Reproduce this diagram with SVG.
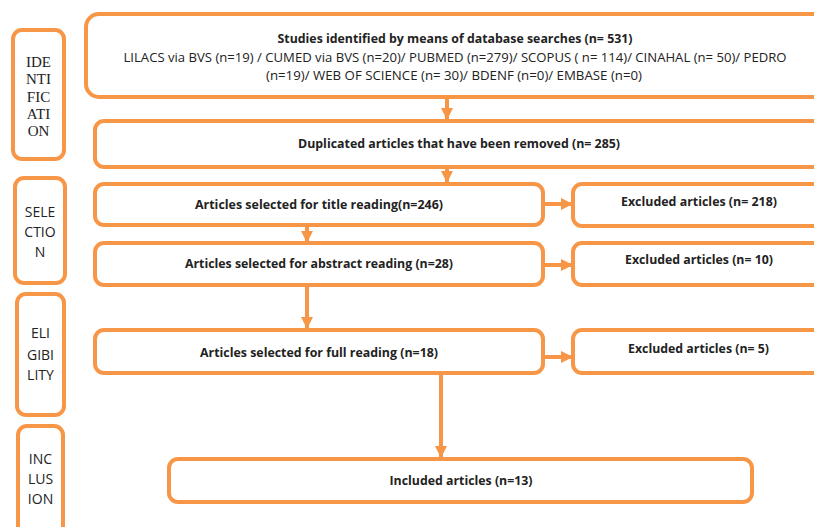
<svg xmlns="http://www.w3.org/2000/svg" width="814" height="527" viewBox="0 0 814 527">
<style>
.box{fill:#fff;stroke:#F79646;stroke-width:4}
.c{stroke:#F79646;stroke-width:4;fill:none}
.t{font-family:"Open Sans","Liberation Sans",sans-serif;font-size:12.5px;fill:#222;text-anchor:middle}
.b{font-weight:bold}
.ser{font-family:"Liberation Serif",serif;font-size:15px;fill:#222;text-anchor:middle}
.lab{font-family:"Open Sans","Liberation Sans",sans-serif;font-size:14px;fill:#222;text-anchor:middle}
</style>
<defs>
<marker id="ah" viewBox="0 0 10 10" refX="10" refY="5" markerWidth="3" markerHeight="3" orient="auto" markerUnits="strokeWidth">
<path d="M0,0 L10,5 L0,10 Z" fill="#F79646"/>
</marker>
</defs>
<g id="stage-identification">
<rect class="box" x="13" y="30" width="51" height="129" rx="9"/>
<text class="ser" x="38.5" y="67">IDE</text>
<text class="ser" x="38.5" y="84">NTI</text>
<text class="ser" x="38.5" y="102">FIC</text>
<text class="ser" x="38.5" y="119">ATI</text>
<text class="ser" x="38.5" y="136">ON</text>
</g>
<g id="stage-selection">
<rect class="box" x="15" y="178" width="50" height="105" rx="9"/>
<text class="lab" x="40" y="217">SELE</text>
<text class="lab" x="40" y="237">CTIO</text>
<text class="lab" x="40" y="257">N</text>
</g>
<g id="stage-eligibility">
<rect class="box" x="17" y="294" width="47" height="121" rx="9"/>
<text class="lab" x="40.5" y="338">ELI</text>
<text class="lab" x="40.5" y="360">GIBI</text>
<text class="lab" x="40.5" y="380">LITY</text>
</g>
<g id="stage-inclusion">
<rect class="box" x="18" y="426" width="45" height="110" rx="9"/>
<text class="lab" x="40.5" y="464">INC</text>
<text class="lab" x="40.5" y="484">LUS</text>
<text class="lab" x="40.5" y="504">ION</text>
</g>
<g id="connectors">
<line class="c" x1="447" y1="97" x2="447" y2="120" marker-end="url(#ah)"/>
<line class="c" x1="447" y1="167" x2="447" y2="183" marker-end="url(#ah)"/>
<line class="c" x1="307" y1="225" x2="307" y2="243" marker-end="url(#ah)"/>
<line class="c" x1="307" y1="285" x2="307" y2="329" marker-end="url(#ah)"/>
<line class="c" x1="441" y1="373" x2="441" y2="458" marker-end="url(#ah)"/>
<line class="c" x1="543" y1="204" x2="573" y2="204" marker-end="url(#ah)"/>
<line class="c" x1="543" y1="265" x2="573" y2="265" marker-end="url(#ah)"/>
<line class="c" x1="543" y1="357" x2="573" y2="357" marker-end="url(#ah)"/>
</g>
<g id="n-studies">
<rect class="box" x="86" y="14" width="740" height="83" rx="13"/>
<text class="t b" x="455" y="43" textLength="355" lengthAdjust="spacingAndGlyphs">Studies identified by means of database searches (n= 531)</text>
<text class="t" x="455" y="62" textLength="663" lengthAdjust="spacingAndGlyphs">LILACS via BVS (n=19) / CUMED via BVS (n=20)/ PUBMED (n=279)/ SCOPUS ( n= 114)/ CINAHAL (n= 50)/ PEDRO</text>
<text class="t" x="454" y="80" textLength="376" lengthAdjust="spacingAndGlyphs">(n=19)/ WEB OF SCIENCE (n= 30)/ BDENF (n=0)/ EMBASE (n=0)</text>
</g>
<g id="n-duplicated">
<rect class="box" x="95" y="121" width="730" height="46" rx="9"/>
<text class="t b" x="459" y="148" textLength="322" lengthAdjust="spacingAndGlyphs">Duplicated articles that have been removed (n= 285)</text>
</g>
<g id="n-title">
<rect class="box" x="95" y="184" width="448" height="41" rx="9"/>
<text class="t b" x="319" y="209" textLength="248" lengthAdjust="spacingAndGlyphs">Articles selected for title reading(n=246)</text>
</g>
<g id="n-abstract">
<rect class="box" x="95" y="243" width="448" height="42" rx="9"/>
<text class="t b" x="319" y="268" textLength="268" lengthAdjust="spacingAndGlyphs">Articles selected for abstract reading (n=28)</text>
</g>
<g id="n-full">
<rect class="box" x="95" y="330" width="448" height="43" rx="9"/>
<text class="t b" x="319" y="357" textLength="238" lengthAdjust="spacingAndGlyphs">Articles selected for full reading (n=18)</text>
</g>
<g id="n-excl-218">
<rect class="box" x="573" y="184" width="260" height="42" rx="9"/>
<text class="t b" x="699" y="206" textLength="156" lengthAdjust="spacingAndGlyphs">Excluded articles (n= 218)</text>
</g>
<g id="n-excl-10">
<rect class="box" x="573" y="243" width="260" height="42" rx="9"/>
<text class="t b" x="699" y="264" textLength="148" lengthAdjust="spacingAndGlyphs">Excluded articles (n= 10)</text>
</g>
<g id="n-excl-5">
<rect class="box" x="573" y="330" width="260" height="43" rx="9"/>
<text class="t b" x="698.5" y="353" textLength="141" lengthAdjust="spacingAndGlyphs">Excluded articles (n= 5)</text>
</g>
<g id="n-included">
<rect class="box" x="169" y="459" width="583" height="43" rx="9"/>
<text class="t b" x="461" y="485" textLength="143" lengthAdjust="spacingAndGlyphs">Included articles (n=13)</text>
</g>
</svg>
